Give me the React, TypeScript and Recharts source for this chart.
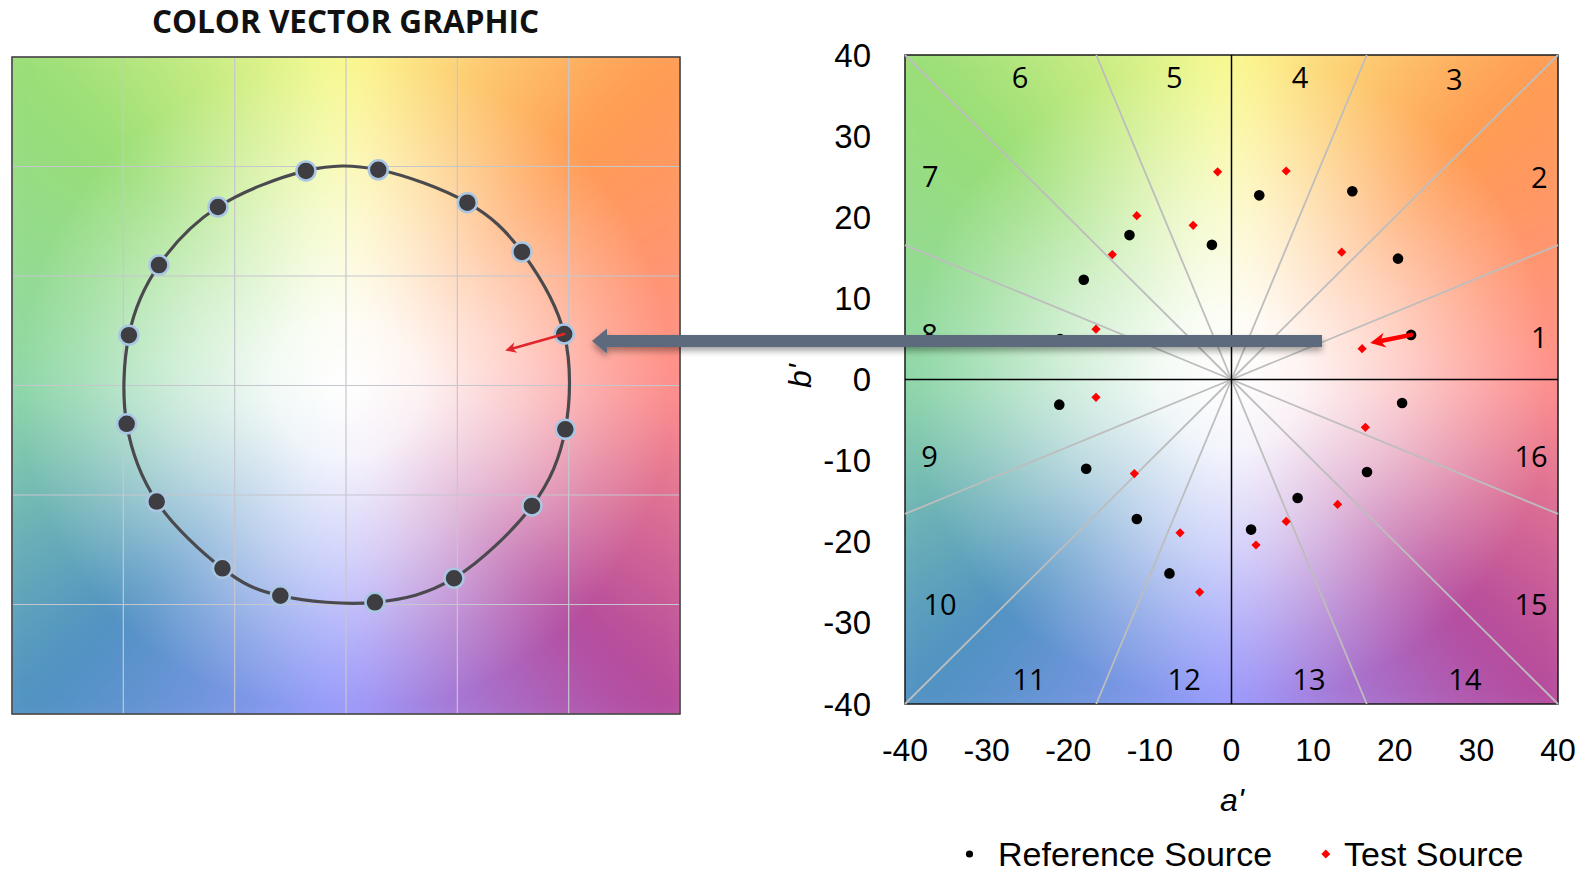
import React from "react";
import {
  ComposedChart,
  Scatter,
  Line,
  XAxis,
  YAxis,
  CartesianGrid,
  ReferenceLine,
  ReferenceArea,
} from "recharts";

// left panel: hue circle in grid units (-3..3)
const circleA = [1.96, 1.58, 1.09, 0.29, -0.36, -1.15, -1.68, -1.95, -1.97, -1.7, -1.11, -0.59, 0.26, 0.97, 1.67, 1.97];
const circleB = [0.47, 1.22, 1.67, 1.97, 1.96, 1.63, 1.1, 0.46, -0.35, -1.06, -1.67, -1.92, -1.98, -1.76, -1.1, -0.4];
const gridTicks = [-3, -2, -1, 0, 1, 2, 3];
const leftArrowFrom = { x: 1.96, y: 0.47 };
const leftArrowTo = { x: 1.43, y: 0.32 };

// right panel: a' / b'
const axisTicks = [-40, -30, -20, -10, 0, 10, 20, 30, 40];
const refA = [22.0, 20.4, 14.8, 3.4, -2.4, -12.5, -18.1, -21.0, -21.1, -17.8, -11.6, -7.6, 2.4, 8.1, 16.6, 20.9];
const refB = [5.5, 14.9, 23.2, 22.7, 16.6, 17.8, 12.3, 5.0, -3.1, -11.0, -17.2, -23.9, -18.5, -14.6, -11.4, -2.9];
const testA = [16.0, 13.5, 6.7, -1.7, -4.7, -11.6, -14.6, -16.6, -16.6, -11.9, -6.3, -3.9, 3.0, 6.7, 13.0, 16.4];
const testB = [3.8, 15.7, 25.7, 25.6, 19.0, 20.2, 15.4, 6.2, -2.2, -11.6, -18.9, -26.2, -20.4, -17.5, -15.4, -5.9];
const sectorNames = ["1", "2", "3", "4", "5", "6", "7", "8", "9", "10", "11", "12", "13", "14", "15", "16"];
const sectorLabelA = [37.7, 37.7, 27.3, 8.4, -7.0, -25.9, -36.9, -37.0, -37.0, -35.7, -24.8, -5.8, 9.5, 28.6, 36.7, 36.7];
const sectorLabelB = [5.3, 25.0, 37.1, 37.3, 37.4, 37.4, 25.1, 5.7, -9.4, -27.6, -36.8, -36.8, -36.8, -36.8, -27.6, -9.4];
// sector boundary ends (gray), the 0/90/180/270 ones are the black axes
const sectorEndA = [40, 40, 16.57, -16.57, -40, -40, -40, -40, -16.57, 16.57, 40, 40];
const sectorEndB = [16.57, 40, 40, 40, 40, 16.57, -16.57, -40, -40, -40, -40, -16.57];
const shiftFrom = { x: 22.0, y: 5.5 };
const shiftTo = { x: 17.0, y: 4.5 };

const circleData = circleA.map((a, i) => ({ a, b: circleB[i] }));
const refData = refA.map((a, i) => ({ a, b: refB[i] }));
const testData = testA.map((a, i) => ({ a, b: testB[i] }));
const labelData = sectorNames.map((n, i) => ({ a: sectorLabelA[i], b: sectorLabelB[i], n }));

const hueConic =
  "conic-gradient(from 0deg at 50% 50%, #fbfb92 0deg, #ff9b52 45deg, #ff908c 90deg, #b54a9c 135deg, #9b9bff 180deg, #4f91c2 225deg, #8fd8a8 270deg, #99de76 315deg, #fbfb92 360deg)";
const whiteGlow =
  "radial-gradient(closest-side circle at 50% 50%, rgba(255,255,255,1) 0%, rgba(255,255,255,0.9) 22%, rgba(255,255,255,0.58) 52%, rgba(255,255,255,0.2) 82%, rgba(255,255,255,0) 100%)";

const SANS = "'Liberation Sans', Arial, sans-serif";

function HueBox({ left, top, width, height }: { left: number; top: number; width: number; height: number }) {
  return (
    <div style={{ position: "absolute", left, top, width, height, overflow: "hidden" }}>
      <div style={{ position: "absolute", left: -40, top: -40, right: -40, bottom: -40, background: hueConic, filter: "blur(22px)" }} />
      <div style={{ position: "absolute", inset: 0, background: whiteGlow }} />
    </div>
  );
}

// closed smooth curve through the points (catmull-rom)
function closedCurve(context: any) {
  let pts: number[][] = [];
  return {
    areaStart() {},
    areaEnd() {},
    lineStart() {
      pts = [];
    },
    point(x: number, y: number) {
      pts.push([x, y]);
    },
    lineEnd() {
      const n = pts.length;
      if (!n) return;
      context.moveTo(pts[0][0], pts[0][1]);
      for (let i = 0; i < n; i++) {
        const p0 = pts[(i - 1 + n) % n];
        const p1 = pts[i];
        const p2 = pts[(i + 1) % n];
        const p3 = pts[(i + 2) % n];
        context.bezierCurveTo(
          p1[0] + (p2[0] - p0[0]) / 6,
          p1[1] + (p2[1] - p0[1]) / 6,
          p2[0] - (p3[0] - p1[0]) / 6,
          p2[1] - (p3[1] - p1[1]) / 6,
          p2[0],
          p2[1]
        );
      }
      context.closePath();
    },
  };
}

function arrowShape(color: string, width: number, headLen: number, headHalf: number) {
  return (p: any) => {
    const { x1, y1, x2, y2 } = p;
    const ang = Math.atan2(y2 - y1, x2 - x1);
    const bx = x2 - headLen * Math.cos(ang);
    const by = y2 - headLen * Math.sin(ang);
    const nx = -Math.sin(ang) * headHalf;
    const ny = Math.cos(ang) * headHalf;
    const ix = x2 - headLen * 0.7 * Math.cos(ang);
    const iy = y2 - headLen * 0.7 * Math.sin(ang);
    return (
      <g>
        <line x1={x1} y1={y1} x2={ix} y2={iy} stroke={color} strokeWidth={width} strokeLinecap="round" />
        <polygon points={`${x2},${y2} ${bx + nx},${by + ny} ${ix},${iy} ${bx - nx},${by - ny}`} fill={color} />
      </g>
    );
  };
}

const renderXTick = (p: any) => (
  <text x={p.x} y={p.y + 46} textAnchor="middle" dominantBaseline="central" fontFamily={SANS} fontSize={32} fill="#000">
    {p.payload.value}
  </text>
);

const renderYTick = (p: any) => (
  <text x={p.x - 34} y={p.y} textAnchor="end" dominantBaseline="central" fontFamily={SANS} fontSize={33} fill="#000">
    {p.payload.value}
  </text>
);

const renderRefDot = (p: any) => <circle cx={p.cx} cy={p.cy} r={5.3} fill="#000" />;

const renderTestDot = (p: any) => (
  <polygon
    points={`${p.cx},${p.cy - 4.6} ${p.cx + 4.6},${p.cy} ${p.cx},${p.cy + 4.6} ${p.cx - 4.6},${p.cy}`}
    fill="#ff0000"
  />
);

const renderSectorLabel = (p: any) => (
  <text
    x={p.cx}
    y={p.cy}
    textAnchor="middle"
    dominantBaseline="central"
    fontFamily="'Open Sans', sans-serif"
    fontSize={29}
    fill="#000"
  >
    {p.payload.n}
  </text>
);

const renderCircleDot = (p: any) => (
  <circle key={p.index} cx={p.cx} cy={p.cy} r={9.5} fill="#3d3d42" stroke="#a9c6e3" strokeWidth={2.5} />
);

export default function App() {
  return (
    <div style={{ position: "absolute", left: 0, top: 0, width: 1585, height: 872, background: "#fff", overflow: "hidden" }}>
      {/* colour backgrounds behind the two plot areas */}
      <HueBox left={12} top={57} width={668} height={657} />
      <HueBox left={905} top={55} width={653} height={649} />

      {/* Left: colour vector graphic */}
      <div style={{ position: "absolute", left: 0, top: 0 }}>
        <ComposedChart width={700} height={730} margin={{ top: 57, right: 20, bottom: 16, left: 12 }}>
          <XAxis type="number" dataKey="a" domain={[-3, 3]} ticks={gridTicks} hide />
          <YAxis type="number" domain={[-3, 3]} ticks={gridTicks} hide />
          <CartesianGrid stroke="#c6c6ce" strokeWidth={1.2} />
          <ReferenceArea x1={-3} x2={3} y1={-3} y2={3} fill="none" fillOpacity={0} stroke="#3c3c3c" strokeWidth={1.5} />
          <Line
            data={circleData}
            dataKey="b"
            type={closedCurve as any}
            stroke="#4a4a4e"
            strokeWidth={3.2}
            dot={renderCircleDot}
            activeDot={false}
            isAnimationActive={false}
          />
          <ReferenceLine
            segment={[leftArrowFrom, leftArrowTo]}
            shape={arrowShape("#e1262b", 2.6, 11, 5.5)}
            zIndex={2500}
          />
        </ComposedChart>
      </div>

      {/* Right: a' b' scatter */}
      <div style={{ position: "absolute", left: 780, top: 0 }}>
        <ComposedChart width={800} height={872} margin={{ top: 55, right: 22, bottom: 108, left: 45 }}>
          <XAxis
            type="number"
            dataKey="a"
            domain={[-40, 40]}
            ticks={axisTicks}
            height={60}
            axisLine={false}
            tickLine={false}
            tickSize={0}
            tickMargin={0}
            tick={renderXTick}
          />
          <YAxis
            type="number"
            dataKey="b"
            domain={[-40, 40]}
            ticks={axisTicks}
            width={80}
            axisLine={false}
            tickLine={false}
            tickSize={0}
            tickMargin={0}
            tick={renderYTick}
          />
          {sectorEndA.map((a, i) => (
            <ReferenceLine
              key={i}
              segment={[
                { x: 0, y: 0 },
                { x: a, y: sectorEndB[i] },
              ]}
              stroke="#bdbdbd"
              strokeWidth={1.8}
            />
          ))}
          <ReferenceLine x={0} stroke="#000" strokeWidth={1.5} />
          <ReferenceLine y={0} stroke="#000" strokeWidth={1.5} />
          <ReferenceArea x1={-40} x2={40} y1={-40} y2={40} fill="none" fillOpacity={0} stroke="#1a1a1a" strokeWidth={1.5} />
          <Scatter data={labelData} shape={renderSectorLabel} isAnimationActive={false} />
          <Scatter data={testData} shape={renderTestDot} isAnimationActive={false} />
          <Scatter data={refData} shape={renderRefDot} isAnimationActive={false} />
          <ReferenceLine segment={[shiftFrom, shiftTo]} shape={arrowShape("#ff0000", 4.5, 15, 7.5)} zIndex={2500} />
        </ComposedChart>
      </div>

      {/* titles, connecting arrow, axis names and legend */}
      <svg width={1585} height={872} style={{ position: "absolute", left: 0, top: 0, pointerEvents: "none" }}>
        <defs>
          <filter id="barShadow" x="-5%" y="-100%" width="110%" height="300%">
            <feDropShadow dx="0" dy="4" stdDeviation="3" floodColor="#000" floodOpacity="0.35" />
          </filter>
        </defs>
        <text x={345.5} y={33} textAnchor="middle" fontFamily="'Open Sans', sans-serif" fontWeight={700} fontSize={31.5} fill="#111">
          COLOR VECTOR GRAPHIC
        </text>
        <polygon
          points="592,341 607,328.5 607,335 1322,335 1322,347 607,347 607,353.5"
          fill="#5d6a7d"
          filter="url(#barShadow)"
        />
        <text x={1232} y={811} textAnchor="middle" fontFamily={SANS} fontStyle="italic" fontSize={32} fill="#000">
          a'
        </text>
        <text
          x={800}
          y={376}
          textAnchor="middle"
          dominantBaseline="central"
          transform="rotate(-90 800 376)"
          fontFamily={SANS}
          fontStyle="italic"
          fontSize={32}
          fill="#000"
        >
          b'
        </text>
        <circle cx={969.5} cy={854} r={3.6} fill="#000" />
        <text x={998} y={866} fontFamily={SANS} fontSize={34} fill="#000">
          Reference Source
        </text>
        <polygon points="1325.8,849.5 1330.3,854 1325.8,858.5 1321.3,854" fill="#ff0000" />
        <text x={1344} y={866} fontFamily={SANS} fontSize={34} fill="#000">
          Test Source
        </text>
      </svg>
    </div>
  );
}
